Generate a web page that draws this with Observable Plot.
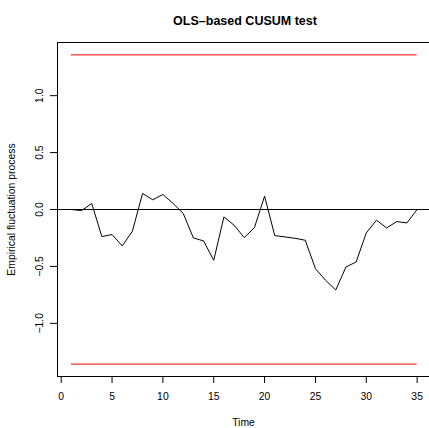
<!DOCTYPE html>
<html><head><meta charset="utf-8">
<script src="https://cdn.jsdelivr.net/npm/d3@7"></script>
<script src="https://cdn.jsdelivr.net/npm/@observablehq/plot@0.6"></script>
<style>html,body{margin:0;padding:0;background:#fff;overflow:hidden;} #chart{width:429px;height:428px;overflow:hidden;}</style>
</head><body><div id="chart"></div>
<script>
const title = "OLS–based CUSUM test";
const xLabel = "Time";
const yLabel = "Empirical fluctuation process";
const time = [1,2,3,4,5,6,7,8,9,10,11,12,13,14,15,16,17,18,19,20,21,22,23,24,25,26,27,28,29,30,31,32,33,34,35];
const processValues = [0.0,-0.01,0.053,-0.238,-0.22,-0.32,-0.191,0.141,0.085,0.132,0.053,-0.035,-0.25,-0.276,-0.446,-0.065,-0.138,-0.247,-0.159,0.117,-0.229,-0.241,-0.253,-0.27,-0.52,-0.622,-0.707,-0.505,-0.461,-0.206,-0.094,-0.162,-0.106,-0.118,0.0];
const boundary = 1.3581;
const xTicks = [0,5,10,15,20,25,30,35];
const yTicks = [-1,-0.5,0,0.5,1];

const series = time.map((t, i) => ({time: t, value: processValues[i]}));
const bounds = [boundary, -boundary];
const xDomain = [-0.364, 36.216];
const yDomain = [-1.467, 1.467];

const chart = Plot.plot({
  width: 429, height: 428,
  marginLeft: 57, marginTop: 42, marginBottom: 52, marginRight: 0,
  style: {fontFamily: "'Liberation Sans', Arial, sans-serif", fontSize: "10.4px", background: "#fff", color: "black"},
  x: {domain: xDomain},
  y: {domain: yDomain},
  marks: [
    Plot.ruleY([0], {stroke: "black", strokeWidth: 1}),
    Plot.ruleY(bounds, {y: d => d, x1: time[0], x2: time[time.length - 1], stroke: "red", strokeWidth: 1}),
    Plot.line(series, {x: "time", y: "value", stroke: "black", strokeWidth: 1}),
    Plot.ruleY(yDomain, {stroke: "black", strokeWidth: 1}),
    Plot.ruleX([xDomain[0]], {stroke: "black", strokeWidth: 1}),
    Plot.axisX({ticks: xTicks, tickSize: 7, tickPadding: 9, tickFormat: d => String(d), label: xLabel, labelAnchor: "center", labelArrow: "none", labelOffset: 49}),
    Plot.axisY({ticks: yTicks, tickSize: 7, tickPadding: 8, tickRotate: -90, tickFormat: d3.format(".1f"), label: yLabel, labelAnchor: "center", labelArrow: "none", labelOffset: 50}),
    Plot.text([title], {frameAnchor: "top", dy: -26, dx: 1.5, fontWeight: "bold", fontSize: 12.5, fill: "black"})
  ]
});
document.getElementById("chart").appendChild(chart);
</script>
</body></html>
